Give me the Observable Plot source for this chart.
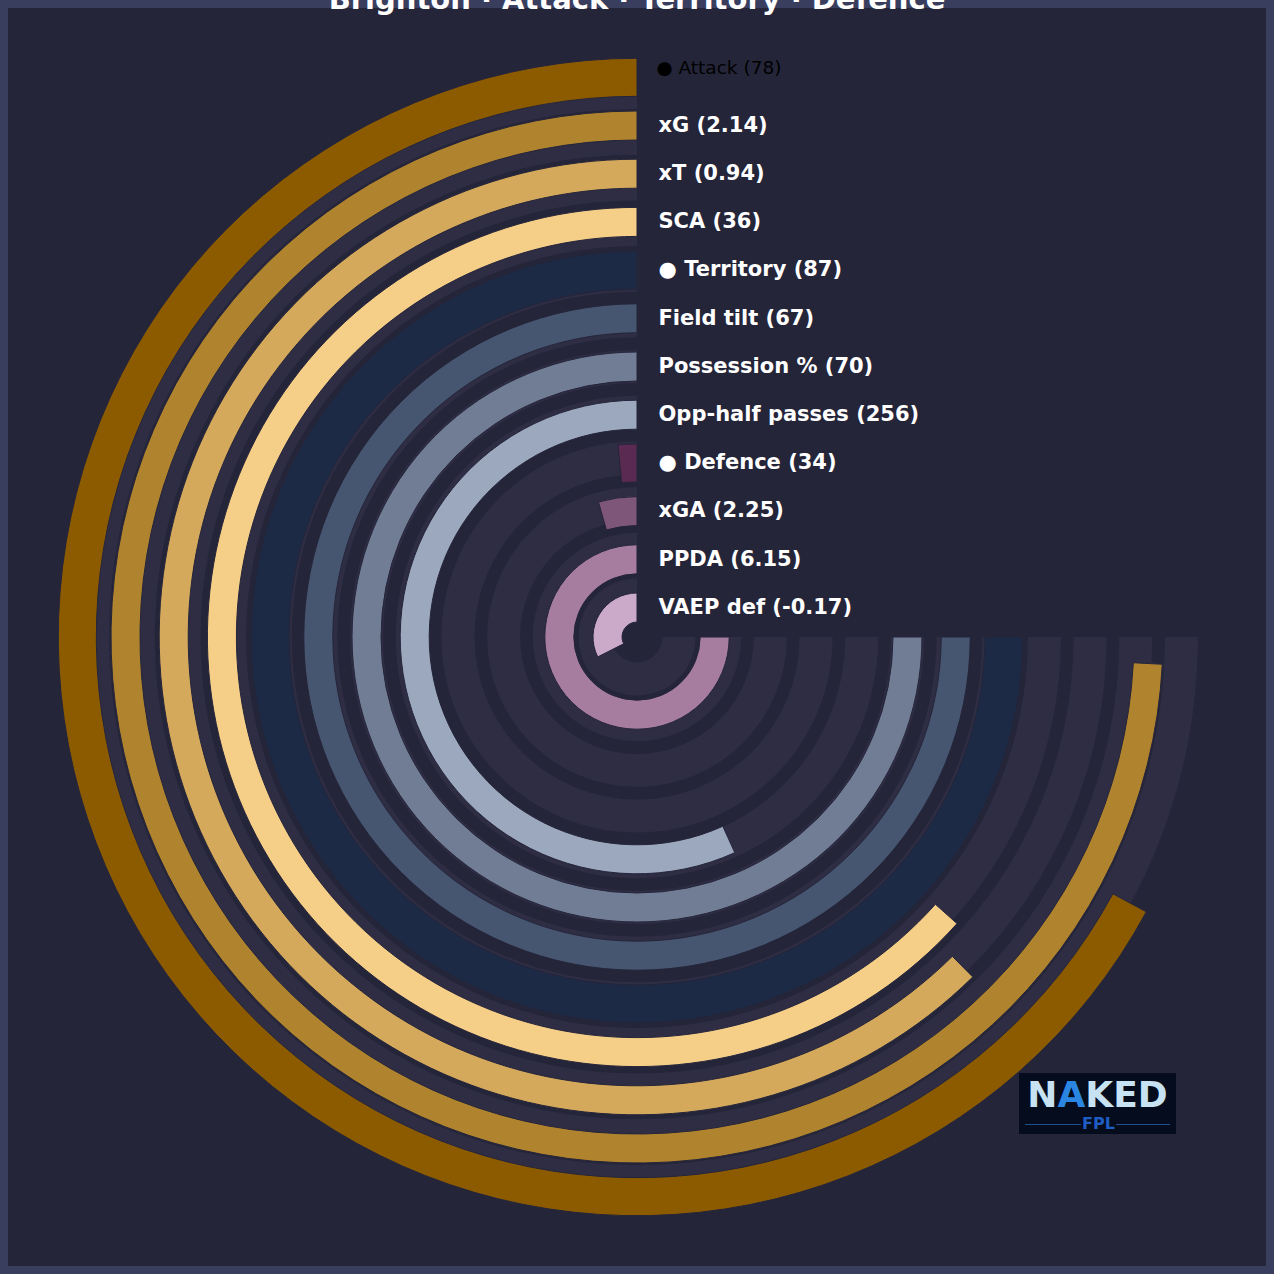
<!DOCTYPE html>
<html>
<head>
<meta charset="utf-8">
<script src="https://cdn.jsdelivr.net/npm/d3@7"></script>
<script src="https://cdn.jsdelivr.net/npm/@observablehq/plot@0.6"></script>
<style>
html, body { margin: 0; padding: 0; background: #3a3e5e; }
#page { position: relative; width: 1274px; height: 1274px; overflow: hidden; background: #3a3e5e; }
#frame { position: absolute; left: 8px; top: 8px; width: 1258px; height: 1258px; background: #25253a; }
#chart { position: absolute; left: 0; top: 0; width: 1274px; height: 1274px; }
#title { position: absolute; left: 0; top: -15px; width: 1274px; text-align: center; white-space: nowrap;
  font: bold 29px "DejaVu Sans", sans-serif; line-height: 29px; color: #ffffff; }
#logo { position: absolute; left: 1019px; top: 1073px; width: 157px; height: 61px; background: #040c1d; }
#logo .nk { position: absolute; left: 0; top: 2px; width: 157px; text-align: center; white-space: nowrap;
  font: bold 36px "DejaVu Sans", sans-serif; line-height: 40px; color: #c6e2f3; }
#logo .nk .a { color: #2a86e0; }
#logo .fpl { position: absolute; left: 0; top: 42px; width: 157px; height: 18px; }
#logo .fpl b { position: absolute; left: 63px; width: 32px; text-align: center; font: bold 16px "DejaVu Sans", sans-serif; line-height: 18px; color: #1f5cc4; }
#logo .fpl i { position: absolute; top: 9px; height: 1px; background: #1f4f8f; }
</style>
</head>
<body>
<div id="page">
  <div id="frame"></div>
  <div id="chart"></div>
  <div id="title">Brighton · Attack · Territory · Defence</div>
  <div id="logo">
    <div class="nk">N<span class="a">A</span>KED</div>
    <div class="fpl"><i style="left:6px;width:56px"></i><b>FPL</b><i style="left:97px;width:54px"></i></div>
  </div>
</div>
<script>
// ---- data ----
const ringNames = ["Attack", "xG", "xT", "SCA", "Territory", "Field tilt", "Possession %", "Opp-half passes", "Defence", "xGA", "PPDA", "VAEP def"];
const ringKinds = ["group", "metric", "metric", "metric", "group", "metric", "metric", "metric", "group", "metric", "metric", "metric"];
const rawValues = [78, 2.14, 0.94, 36, 87, 67, 70, 256, 34, 2.25, 6.15, -0.17];
const scoreValues = [89.5, 98.9, 83.2, 84.5, 100, 100, 100, 75.7, 2.1, 5.9, 100, 43.3];
const scoreMax = 100;

// ---- styles ----
const ringColors = ["#8c5b00", "#b0832e", "#d4a95b", "#f5ce87", "#1c2a45", "#475670", "#717d95", "#9ba8be", "#5a2a52", "#7e5679", "#a67d9e", "#cba9c9"];
const trackColor = "#2e2d44";
const bgColor = "#25253a";
const thickness = {group: 38, metric: 29};
const trackThickness = 33;

const rows = ringNames.map((name, i) => ({
  name, kind: ringKinds[i], raw: rawValues[i], score: scoreValues[i], color: ringColors[i],
  label: (ringKinds[i] === "group" ? "● " : "") + name + " (" + rawValues[i] + ")"
}));

// track layout: its own Plot point scale (screen y of each track centre at 12 o'clock)
const trackScale = Plot.scale({y: {type: "point", domain: ringNames, range: [69.7, 617.8], padding: 0.5, round: false}});

class RadialBar extends Plot.Mark {
  constructor(data, {x, y, fill, size, radiusScale, stroke = "none", strokeWidth = 0} = {}) {
    super(data, {x: {value: x, scale: "x"}, y: {value: y, scale: "y"}}, {});
    this.rows = data;
    this.fillOf = fill;
    this.sizeOf = size;
    this.radiusScale = radiusScale;
    this.strokeColor = stroke;
    this.strokeW = strokeWidth;
  }
  render(index, scales, values, dimensions) {
    const cx = dimensions.width / 2, cy = dimensions.height / 2;
    const g = d3.create("svg:g").attr("transform", `translate(${cx},${cy})`);
    const arc = d3.arc();
    for (const i of index) {
      const d = this.rows[i];
      const yc = this.radiusScale ? this.radiusScale.apply(d.name) : values.y[i];
      const rMid = cy - yc;
      const t = this.sizeOf(d);
      g.append("path")
        .attr("d", arc({innerRadius: rMid - t / 2, outerRadius: rMid + t / 2, startAngle: 0, endAngle: -values.x[i] * Math.PI / 180}))
        .attr("fill", typeof this.fillOf === "function" ? this.fillOf(d) : this.fillOf)
        .attr("stroke", this.strokeColor)
        .attr("stroke-width", this.strokeW);
    }
    return g.node();
  }
}

const chart = Plot.plot({
  width: 1274,
  height: 1274,
  margin: 0,
  style: {background: "transparent", fontFamily: "DejaVu Sans", overflow: "visible"},
  x: {domain: [0, scoreMax], range: [0, 270], axis: null},
  y: {type: "point", domain: ringNames, range: [53.2, 631.6], padding: 0.5, round: false, axis: null},
  marks: [
    new RadialBar(rows, {x: () => scoreMax, y: "name", radiusScale: trackScale, size: () => trackThickness, fill: trackColor}),
    new RadialBar(rows, {x: "score", y: "name", size: d => thickness[d.kind], fill: d => d.color, stroke: bgColor, strokeWidth: 1}),
    Plot.text(rows, {filter: (d, i) => i === 0, y: "name", text: "label", dx: 19, dy: -10, textAnchor: "start",
      fill: "#000000", fontSize: 18.5, fontWeight: "normal"}),
    Plot.text(rows, {filter: (d, i) => i > 0, y: "name", text: "label", dx: 21, dy: -1, textAnchor: "start",
      fill: "#ffffff", fontSize: 21, fontWeight: "bold"})
  ]
});
document.getElementById("chart").appendChild(chart);
</script>
</body>
</html>
